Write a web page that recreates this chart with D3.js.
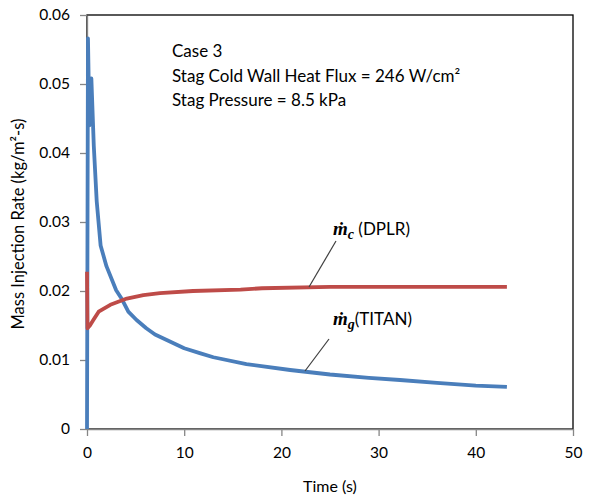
<!DOCTYPE html>
<html>
<head>
<meta charset="utf-8">
<script src="https://cdn.jsdelivr.net/npm/d3@7.9.0/dist/d3.min.js"></script>
<style>
  body { margin: 0; background: #fff; }
  text { font-family: Lato, "Open Sans", sans-serif; fill: #000; }
</style>
</head>
<body>
<svg id="chart" width="604" height="498"></svg>
<script>
// series: [time (s), rate (kg/m2-s)]
const titanTime = [0, 0.1, 0.25, 0.45, 0.7, 1.0, 1.4, 2.0, 3.0, 3.6, 4.25, 5.1, 6.1, 7.0, 8.2, 10, 11.6, 13, 16.4, 20.9, 25, 29, 32.2, 36, 40, 43.2];
const titanRate = [0, 0.0566, 0.044, 0.0508, 0.041, 0.033, 0.0266, 0.0236, 0.0201, 0.0188, 0.0170, 0.0158, 0.0146, 0.0137, 0.0129, 0.0117, 0.0110, 0.0104, 0.0094, 0.00855, 0.0079, 0.0074, 0.0071, 0.0067, 0.0063, 0.0061];

const dplrTime = [0, 0.05, 0.3, 0.65, 1.2, 2.4, 4.1, 5.8, 7.5, 10.9, 15.8, 18, 25, 43.2];
const dplrRate = [0.0228, 0.0146, 0.0150, 0.0158, 0.0170, 0.0180, 0.0189, 0.0194, 0.0197, 0.0200, 0.0202, 0.0204, 0.0206, 0.0206];

const xTicks = [0, 10, 20, 30, 40, 50];
const yTicks = [0, 0.01, 0.02, 0.03, 0.04, 0.05, 0.06];

const infoLines = ["Case 3", "Stag Cold Wall Heat Flux = 246 W/cm\u00B2", "Stag Pressure = 8.5 kPa"];

const svg = d3.select("#chart");
const margin = { left: 87, right: 31, top: 15, bottom: 69 };
const W = 604, H = 498;

const x = d3.scaleLinear().domain([0, 50]).range([margin.left, W - margin.right]);
const y = d3.scaleLinear().domain([0, 0.06]).range([H - margin.bottom, margin.top]);

svg.append("rect").attr("width", W).attr("height", H).attr("fill", "#fff");

// plot area border
svg.append("rect")
    .attr("x", x(0)).attr("y", y(0.06))
    .attr("width", x(50) - x(0)).attr("height", y(0) - y(0.06))
    .attr("fill", "none").attr("stroke", "#000").attr("stroke-width", 1.3);

const fmt = d => d === 0 ? "0" : d3.format(".2f")(d);

const yAxis = svg.append("g")
    .attr("transform", `translate(${x(0)},0)`)
    .call(d3.axisLeft(y).tickValues(yTicks).tickFormat(fmt).tickSize(7).tickPadding(10).tickSizeOuter(0));

const xAxis = svg.append("g")
    .attr("transform", `translate(0,${y(0)})`)
    .call(d3.axisBottom(x).tickValues(xTicks).tickSize(7).tickPadding(11).tickSizeOuter(0));

[yAxis, xAxis].forEach(g => {
    g.select(".domain").attr("stroke", "#868686").attr("stroke-width", 1.3);
    g.selectAll(".tick line").attr("stroke", "#868686").attr("stroke-width", 1.3);
    g.selectAll(".tick text").attr("font-size", 15.5).attr("font-family", "Lato").attr("fill", "#000");
});

const line = d3.line().x(d => x(d[0])).y(d => y(d[1]));

const titan = titanTime.map((t, i) => [t, titanRate[i]]);
const dplr = dplrTime.map((t, i) => [t, dplrRate[i]]);

svg.append("path").datum(titan).attr("d", line)
    .attr("fill", "none").attr("stroke", "#4a7ebb").attr("stroke-width", 3.8)
    .attr("stroke-linejoin", "round");

svg.append("path").datum(dplr).attr("d", line)
    .attr("fill", "none").attr("stroke", "#be4b48").attr("stroke-width", 3.8)
    .attr("stroke-linejoin", "round");

// info text box
svg.append("g").selectAll("text").data(infoLines).join("text")
    .attr("x", 172).attr("y", (d, i) => 57 + i * 24.7)
    .attr("font-size", 17)
    .text(d => d);

// axis titles
svg.append("text").attr("x", x(25)).attr("y", 492)
    .attr("text-anchor", "middle").attr("font-size", 16).text("Time (s)");

svg.append("text")
    .attr("transform", `translate(24,${y(0.0297)}) rotate(-90)`)
    .attr("text-anchor", "middle").attr("font-size", 16.5)
    .text("Mass Injection Rate (kg/m\u00B2-s)");

// callouts
function callout(tx, ty, sub, label, lx1, ly1, lx2, ly2) {
    svg.append("line")
        .attr("x1", lx1).attr("y1", ly1).attr("x2", lx2).attr("y2", ly2)
        .attr("stroke", "#404040").attr("stroke-width", 1.2);
    const t = svg.append("text").attr("x", tx).attr("y", ty).attr("font-size", 17);
    t.append("tspan").attr("font-family", "Liberation Serif").attr("font-weight", "bold")
        .attr("font-style", "italic").attr("font-size", 19).text("\u1E41");
    t.append("tspan").attr("font-family", "Liberation Serif").attr("font-weight", "bold")
        .attr("font-style", "italic").attr("font-size", 14).attr("dy", 4).text(sub);
    t.append("tspan").attr("dy", -4).text(label);
}

callout(333, 235, "c", " (DPLR)", 336, 241, 309, 287);
callout(333, 325, "g", "(TITAN)", 329, 339, 305, 371);
</script>
</body>
</html>
